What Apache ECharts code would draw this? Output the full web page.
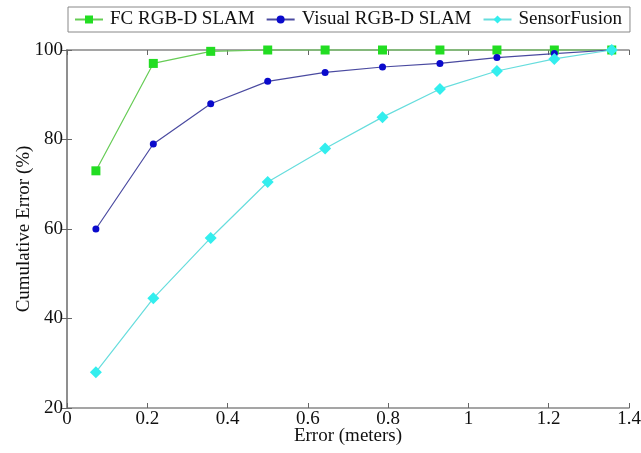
<!DOCTYPE html>
<html>
<head>
    <meta charset="utf-8">
    <title>Cumulative Error</title>
    <script src="https://cdn.jsdelivr.net/npm/echarts@6/dist/echarts.min.js"></script>
    <style>
        html, body { margin: 0; padding: 0; background: #fff; }
    </style>
</head>
<body>
<div id="main" style="width: 641px;height:453px;"></div>
<script type="text/javascript">
    // error thresholds (meters)
    var errX = [0.072, 0.215, 0.358, 0.5, 0.643, 0.786, 0.929, 1.071, 1.214, 1.357];
    // cumulative error (%) per method
    var fcSlam = [73, 97, 99.7, 100, 100, 100, 100, 100, 100, 100];
    var visualSlam = [60, 79, 88, 93, 95, 96.2, 97, 98.3, 99.2, 100];
    var sensorFusion = [28, 44.5, 58, 70.5, 78, 85, 91.3, 95.3, 98, 100];
    var xTicks = [0, 0.2, 0.4, 0.6, 0.8, 1, 1.2, 1.4];
    var yTicks = [20, 40, 60, 80, 100];

    function pairs(ys) {
        return errX.map(function (x, i) { return [x, ys[i]]; });
    }

    var font = 'Liberation Serif';
    var fs = 19;
    var frame = { show: true, lineStyle: { color: '#888', width: 1.5 } };
    var tickIn = { show: true, inside: true, length: 5, lineStyle: { color: '#666' } };

    var myChart = echarts.init(document.getElementById('main'));
    var option = {
        animation: false,
        textStyle: { fontFamily: font },
        grid: { left: 67, right: 12, top: 50, bottom: 45, outerBoundsMode: 'none', containLabel: false },
        legend: {
            left: 68, top: 7,
            itemGap: 11, itemWidth: 28, itemHeight: 10,
            padding: [3, 8, 3, 6],
            borderColor: '#888', borderWidth: 1,
            textStyle: { fontFamily: font, fontSize: fs, color: '#111', padding: [0, 0, 0, 2] },
            data: ['FC RGB-D SLAM', 'Visual RGB-D SLAM', 'SensorFusion']
        },
        xAxis: [
            {
                type: 'value', min: 0, max: 1.4, interval: 0.2,
                name: 'Error (meters)', nameLocation: 'middle', nameGap: 19, nameMoveOverlap: false,
                nameTextStyle: { fontFamily: font, fontSize: fs, color: '#111' },
                axisLine: frame, axisTick: tickIn, splitLine: { show: false },
                axisLabel: { fontFamily: font, fontSize: fs, color: '#111', margin: 2,
                    formatter: function (v) { return String(+v.toFixed(1)); } }
            },
            {
                type: 'value', min: 0, max: 1.4, interval: 0.2, position: 'top',
                axisLine: frame, axisTick: tickIn, splitLine: { show: false },
                axisLabel: { show: false }
            }
        ],
        yAxis: [
            {
                type: 'value', min: 20, max: 100, interval: 20,
                name: 'Cumulative Error (%)', nameLocation: 'middle', nameGap: 33, nameMoveOverlap: false,
                nameTextStyle: { fontFamily: font, fontSize: fs, color: '#111' },
                axisLine: frame, axisTick: tickIn, splitLine: { show: false },
                axisLabel: { fontFamily: font, fontSize: fs, color: '#111', margin: 4 }
            },
            {
                type: 'value', min: 20, max: 100, interval: 20, position: 'right',
                axisLine: frame, axisTick: tickIn, splitLine: { show: false },
                axisLabel: { show: false }
            }
        ],
        series: [
            {
                name: 'FC RGB-D SLAM', type: 'line', data: pairs(fcSlam),
                symbol: 'rect', symbolSize: 9, clip: false,
                lineStyle: { color: '#66cc55', width: 1.2 },
                itemStyle: { color: '#22dd22' }
            },
            {
                name: 'Visual RGB-D SLAM', type: 'line', data: pairs(visualSlam),
                symbol: 'circle', symbolSize: 7, clip: false,
                lineStyle: { color: '#4a4aa0', width: 1.2 },
                itemStyle: { color: '#0a0acc' }
            },
            {
                name: 'SensorFusion', type: 'line', data: pairs(sensorFusion),
                symbol: 'diamond', symbolSize: 12, clip: false,
                lineStyle: { color: '#66dddd', width: 1.2 },
                itemStyle: { color: '#33eeee' }
            }
        ]
    };
    myChart.setOption(option);
</script>
</body>
</html>
